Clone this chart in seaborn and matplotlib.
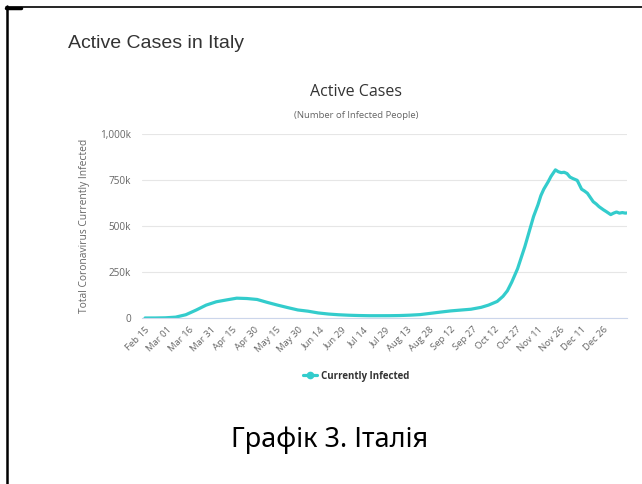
import matplotlib
matplotlib.use("Agg")
import matplotlib.pyplot as plt
from matplotlib.lines import Line2D
from matplotlib.ticker import FuncFormatter
import pandas as pd
import seaborn as sns

# Active COVID-19 cases in Italy, Feb 2020 - Jan 2021
dates = [
    "2020-02-15", "2020-02-22", "2020-02-29", "2020-03-07", "2020-03-14", "2020-03-21",
    "2020-03-28", "2020-04-04", "2020-04-11", "2020-04-18", "2020-04-25", "2020-05-02",
    "2020-05-09", "2020-05-16", "2020-05-23", "2020-05-30", "2020-06-06", "2020-06-13",
    "2020-06-20", "2020-06-27", "2020-07-04", "2020-07-11", "2020-07-18", "2020-07-25",
    "2020-08-01", "2020-08-08", "2020-08-15", "2020-08-22", "2020-08-29", "2020-09-05",
    "2020-09-12", "2020-09-19", "2020-09-26", "2020-10-03", "2020-10-08", "2020-10-14",
    "2020-10-18", "2020-10-21", "2020-10-24", "2020-10-28", "2020-11-02", "2020-11-05",
    "2020-11-08", "2020-11-11", "2020-11-13", "2020-11-15", "2020-11-18", "2020-11-20",
    "2020-11-23", "2020-11-25", "2020-11-27", "2020-11-29", "2020-12-01", "2020-12-03",
    "2020-12-05", "2020-12-08", "2020-12-11", "2020-12-13", "2020-12-15", "2020-12-17",
    "2020-12-19", "2020-12-21", "2020-12-23", "2020-12-26", "2020-12-28", "2020-12-31",
    "2021-01-02", "2021-01-04", "2021-01-06", "2021-01-08", "2021-01-10", "2021-01-11",
]
active_cases = [
    3, 62, 1049, 4636, 17750, 42681,
    70065, 88274, 98273, 107771, 105847, 100704,
    84842, 70187, 56594, 43691, 36976, 27485,
    21543, 17638, 15060, 13428, 12440, 12422,
    12566, 13368, 15360, 18438, 25205, 32078,
    38509, 43161, 47718, 58000, 70000, 90000,
    118000, 148000, 195000, 268000, 388000, 470000,
    552000, 615000, 665000, 700000, 740000, 770000,
    805000, 795000, 790000, 792000, 785000, 766000,
    758000, 748000, 700000, 690000, 678000, 655000,
    632000, 620000, 605000, 588000, 578000, 562000,
    570000, 576000, 570000, 573000, 570000, 571000,
]
x_tick_labels = [
    "Feb 15", "Mar 01", "Mar 16", "Mar 31", "Apr 15", "Apr 30", "May 15", "May 30",
    "Jun 14", "Jun 29", "Jul 14", "Jul 29", "Aug 13", "Aug 28", "Sep 12", "Sep 27",
    "Oct 12", "Oct 27", "Nov 11", "Nov 26", "Dec 11", "Dec 26",
]
y_ticks = [0, 250000, 500000, 750000, 1000000]

series_name = "Currently Infected"
line_color = "#33CCCC"
grey = "#666666"
dark = "#333333"

df = pd.DataFrame({"date": pd.to_datetime(dates), "active": active_cases})
start = pd.Timestamp("2020-02-15")
df["day"] = (df["date"] - start).dt.days

sns.set_theme(style="white")
plt.rcParams["font.family"] = ["Open Sans", "DejaVu Sans"]

W, H = 642, 484
fig = plt.figure(figsize=(W / 100, H / 100), dpi=100)
fig.patch.set_facecolor("white")


def fx(px):
    return px / W


def fy(py):
    return 1 - py / H


ax = fig.add_axes([fx(142), fy(318), (627 - 142) / W, (318 - 134) / H])
sns.lineplot(data=df, x="day", y="active", ax=ax, color=line_color,
             linewidth=2.3, label=series_name, legend=False)

ax.set_xlim(-2.1, 331.2)
ax.set_ylim(0, 1000000)
ax.set_yticks(y_ticks)
ax.yaxis.set_major_formatter(FuncFormatter(
    lambda v, _: "0" if v == 0 else f"{int(v / 1000):,}k"))
ax.set_xticks([i * 15 for i in range(len(x_tick_labels))])
ax.set_xticklabels(x_tick_labels, rotation=45, ha="right",
                   rotation_mode="anchor", fontsize=6.8, color=grey)
ax.tick_params(axis="y", labelsize=7.2, labelcolor=grey, length=0, pad=8)
ax.tick_params(axis="x", length=0, pad=5)
ax.grid(axis="y", color="#e6e6e6", linewidth=0.8)
ax.grid(axis="x", visible=False)
for side in ["top", "right", "left"]:
    ax.spines[side].set_visible(False)
ax.spines["bottom"].set_color("#ccd6eb")
ax.spines["bottom"].set_linewidth(0.8)
ax.set_xlabel("")
ax.set_ylabel("Total Coronavirus Currently Infected", fontsize=7.4,
              color=grey, labelpad=7)

# legend below the axis labels
handle = Line2D([], [], color=line_color, linewidth=2.3, marker="o",
                markersize=4.5)
leg = fig.legend([handle], [series_name], loc="center",
                 bbox_to_anchor=(fx(356), fy(376)), frameon=False,
                 handlelength=1.5, handletextpad=0.4,
                 prop={"weight": "bold", "size": 7})
for t in leg.get_texts():
    t.set_color(dark)

# titles
fig.text(fx(68), fy(44), "Active Cases in Italy", fontsize=14,
         family=["Liberation Sans"], color=dark, ha="left", va="center")
fig.text(fx(356), fy(92), "Active Cases", fontsize=11.5, color=dark,
         ha="center", va="center")
fig.text(fx(356), fy(116), "(Number of Infected People)", fontsize=6.8,
         color=grey, ha="center", va="center")

# caption
fig.text(fx(330), fy(440), "Графік 3. Італія", fontsize=19.5,
         family=["Noto Sans", "DejaVu Sans"], color="black",
         ha="center", va="center")

# page frame
fig.add_artist(Line2D([fx(6), fx(642)], [fy(7), fy(7)], color="black",
                      linewidth=1.2))
fig.add_artist(Line2D([fx(7), fx(7)], [fy(6), fy(484)], color="black",
                      linewidth=1.8))
fig.add_artist(Line2D([fx(6), fx(21)], [fy(8), fy(8)], color="black",
                      linewidth=2.5))

fig.savefig("out.png", dpi=100)
